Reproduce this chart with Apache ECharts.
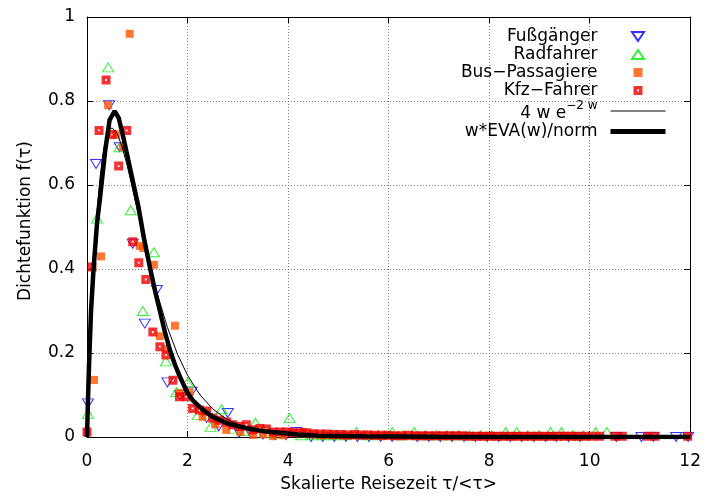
<!DOCTYPE html>
<html>
<head>
<meta charset="utf-8">
<script src="https://cdn.jsdelivr.net/npm/echarts@6/dist/echarts.min.js"></script>
<style>
html,body{margin:0;padding:0;background:#fff;}
#main{width:704px;height:500px;}
</style>
</head>
<body>
<div id="main"></div>
<script>
// Achsen
var xTicks = [0, 2, 4, 6, 8, 10, 12];
var yTicks = [0, 0.2, 0.4, 0.6, 0.8, 1];

var fussgaenger = [
  [0.02,0.08],[0.18,0.65],[0.44,0.79],[0.65,0.69],[0.91,0.46],[1.15,0.27],[1.39,0.35],
  [1.6,0.13],[1.85,0.1],[2.08,0.108],[2.38,0.045],[2.62,0.025],[2.8,0.057],[3.03,0.01],
  [3.26,0.008],[3.5,0.006],[3.73,0.005],[3.96,0.004],[4.17,0.012],
  [4.46,0],[4.69,0],[4.92,0],[5.15,0],[5.38,0],[5.61,0],[5.84,0],[6.07,0],[6.57,0],
  [6.8,0],[7.03,0],[7.26,0],[7.5,0],[7.73,0],[7.96,0],[8.19,0],[8.42,0],[8.65,0],
  [8.89,0],[9.12,0],[9.34,0],[9.58,0],[9.81,0],[10.53,0],[11.03,0],[11.27,0],
  [11.72,0],[11.96,0]
];
var radfahrer = [
  [0.02,0.055],[0.2,0.52],[0.42,0.88],[0.65,0.69],[0.87,0.54],[1.11,0.3],[1.33,0.44],
  [1.57,0.18],[1.78,0.107],[2.0,0.13],[2.2,0.052],[2.46,0.024],[2.68,0.066],[2.9,0.02],
  [3.13,0.015],[3.35,0.034],[3.57,0.01],[3.8,0.008],[4.03,0.045],
  [4.26,0.004],[4.48,0.004],[4.7,0.004],[4.92,0.004],[5.14,0.004],[5.36,0.012],
  [5.58,0.004],[5.8,0.004],[6.07,0.012],[6.29,0.004],[6.51,0.012],[6.73,0.004],
  [6.95,0.004],[7.17,0.004],[7.39,0.004],[7.61,0.004],[7.83,0.004],[8.05,0.004],
  [8.33,0.012],[8.55,0.012],[8.77,0.004],[8.99,0.004],[9.22,0.012],[9.44,0.012],
  [9.66,0.004],[9.88,0.004],[10.12,0.012],[10.34,0.012]
];
var busPassagiere = [
  [0.14,0.136],[0.28,0.43],[0.42,0.79],[0.58,0.72],[0.71,0.69],[0.85,0.96],[1.05,0.455],
  [1.12,0.45],[1.33,0.41],[1.45,0.24],[1.59,0.21],[1.75,0.265],[1.85,0.105],[2.04,0.107],
  [2.3,0.048],[2.55,0.03],[2.77,0.017],[3.05,0.012],[3.3,0.005],[3.5,0.006],[3.7,0.002],
  [3.9,0.004],[4.1,0.01],[4.3,0.012],[4.5,0.006],[4.7,0.004],[4.9,0.004],[5.1,0.003],
  [5.3,0.003],[5.5,0.003],[5.7,0.003],[5.9,0.002],[6.1,0.002],[6.3,0.002],[6.5,0.002],
  [6.7,0.002],[6.9,0.002],[7.1,0.002],[7.3,0.002],[7.5,0.002],[7.7,0.002],[7.9,0.002],
  [8.1,0.002],[8.3,0.002],[8.5,0.002],[8.7,0.002],[8.9,0.002],[9.1,0.002],[9.3,0.002],
  [9.5,0.002],[9.7,0.002]
];
var kfzFahrer = [
  [0.0,0.012],[0.1,0.405],[0.24,0.73],[0.38,0.85],[0.5,0.72],[0.63,0.645],[0.79,0.73],
  [0.91,0.465],[1.03,0.415],[1.17,0.375],[1.31,0.25],[1.45,0.215],[1.57,0.195],[1.71,0.135],
  [1.84,0.096],[1.98,0.096],[2.1,0.068],[2.24,0.064],[2.38,0.062],[2.5,0.045],[2.64,0.04],
  [2.78,0.036],[2.9,0.029],[3.04,0.025],[3.17,0.029],[3.3,0.017],[3.44,0.02],[3.57,0.019],
  [3.7,0.012],[3.84,0.012],[3.97,0.012],[4.1,0.01],[4.24,0.01],[4.37,0.01],[4.51,0.008],
  [4.64,0.007],[4.78,0.007],[4.91,0.006],[5.05,0.006],[5.18,0.005],[5.32,0.006],[5.45,0.005],
  [5.59,0.005],[5.72,0.004],[5.86,0.004],[5.99,0.004],[6.13,0.003],[6.26,0.003],[6.4,0.004],
  [6.53,0.003],[6.67,0.003],[6.8,0.003],[6.94,0.003],[7.07,0.003],[7.21,0.003],[7.34,0.003],
  [7.48,0.003],[7.61,0.002],[7.75,0.002],[7.88,0.002],[8.02,0.002],[8.15,0.002],[8.29,0.002],
  [8.42,0.002],[8.56,0.002],[8.69,0.002],[8.83,0.002],[8.96,0.002],[9.1,0.002],[9.23,0.002],
  [9.37,0.002],[9.5,0.002],[9.64,0.002],[9.77,0.002],[9.91,0.002],[10.05,0.002],[10.2,0.002],
  [10.5,0.002],[10.65,0.002],[11.15,0.002],[11.3,0.002],[11.95,0.002]
];

// Kurven
var expKurve = [
  [0,0],[0.05,0.181],[0.1,0.327],[0.15,0.444],[0.2,0.536],[0.25,0.607],[0.3,0.659],
  [0.35,0.695],[0.4,0.719],[0.45,0.732],[0.5,0.736],[0.6,0.723],[0.7,0.69],[0.8,0.646],
  [0.9,0.595],[1.0,0.541],[1.2,0.435],[1.4,0.34],[1.6,0.261],[1.8,0.197],[2.0,0.147],
  [2.25,0.1],[2.5,0.067],[2.75,0.045],[3,0.03],[3.5,0.0128],[4,0.0054],[5,0.0009],
  [6,0.00015],[8,0],[12,0]
];
var evaKurve = [
  [0,0],[0.02,0.09],[0.04,0.17],[0.08,0.3],[0.13,0.4],[0.2,0.51],[0.26,0.57],[0.36,0.68],
  [0.45,0.755],[0.55,0.776],[0.63,0.76],[0.72,0.715],[0.82,0.66],[0.91,0.61],[1.02,0.55],
  [1.13,0.475],[1.25,0.405],[1.35,0.35],[1.45,0.3],[1.55,0.25],[1.65,0.207],[1.75,0.172],
  [1.85,0.143],[2.0,0.105],[2.1,0.088],[2.3,0.065],[2.5,0.048],[2.8,0.032],[3.17,0.021],
  [3.5,0.014],[3.83,0.01],[4.2,0.006],[4.6,0.003],[5.5,0.0015],[7,0.0005],[9,0.0002],[12,0]
];

var FONT = 'DejaVu Sans';
var FS = 17;
var myChart = echarts.init(document.getElementById('main'));

var achse = function(pos, labels){
  return {
    type: 'value',
    position: pos,
    axisLine: {show: true, onZero: false, lineStyle: {color: '#000', width: 1}},
    axisTick: {show: true, inside: true, length: 6, lineStyle: {color: '#000'}},
    axisLabel: {show: labels, color: '#000', fontFamily: FONT, fontSize: FS},
    splitLine: {show: false}
  };
};

var xUnten = achse('bottom', true);
xUnten.min = xTicks[0]; xUnten.max = xTicks[xTicks.length-1]; xUnten.interval = xTicks[1]-xTicks[0];
xUnten.axisLabel.margin = 16;
xUnten.name = 'Skalierte Reisezeit τ/<τ>';
xUnten.nameLocation = 'middle';
xUnten.nameGap = 39;
xUnten.nameTextStyle = {color: '#000', fontFamily: FONT, fontSize: FS};
xUnten.splitLine = {show: true, showMinLine: false, showMaxLine: false,
  lineStyle: {color: '#808080', type: [1, 2], width: 1}};

var xOben = achse('top', false);
xOben.min = xUnten.min; xOben.max = xUnten.max; xOben.interval = xUnten.interval;

var yLinks = achse('left', true);
yLinks.min = yTicks[0]; yLinks.max = yTicks[yTicks.length-1]; yLinks.interval = yTicks[1]-yTicks[0];
yLinks.axisLabel.margin = 12;
yLinks.name = 'Dichtefunktion f(τ)';
yLinks.nameLocation = 'middle';
yLinks.nameGap = 53;
yLinks.nameTextStyle = {color: '#000', fontFamily: FONT, fontSize: FS, padding: [0, 0, 0, 12]};
yLinks.splitLine = {show: true, showMinLine: false, showMaxLine: false,
  lineStyle: {color: '#808080', type: [1, 2], width: 1}};

var yRechts = achse('right', false);
yRechts.min = yLinks.min; yRechts.max = yLinks.max; yRechts.interval = yLinks.interval;

// Symbole
var dreieckUnten = 'path://M0,0L12,0L6,9Z';
var dreieckOben = 'path://M6,0L12,9L0,9Z';
var quadrat = 'path://M0,0L8,0L8,8L0,8Z';
var kfzSymbol = 'path://M0,0L10,0L10,10L0,10Z M4,4L4,6L6,6L6,4Z';
var keinPunkt = {color: 'rgba(0,0,0,0)', borderWidth: 0, opacity: 0};

var option = {
  animation: false,
  backgroundColor: '#fff',
  grid: {left: 87, right: 12, top: 17, bottom: 63},
  xAxis: [xUnten, xOben],
  yAxis: [yLinks, yRechts],
  legend: {
    orient: 'vertical',
    align: 'right',
    right: 31,
    top: 23,
    itemWidth: 55,
    itemHeight: 9,
    itemGap: 1,
    symbolRotate: 0,
    textStyle: {color: '#000', fontFamily: FONT, fontSize: FS, padding: [0, 8, 0, 0],
      rich: {
        b: {fontFamily: FONT, fontSize: FS, color: '#000', lineHeight: 22, verticalAlign: 'bottom'},
        s: {fontFamily: FONT, fontSize: 12, color: '#000', lineHeight: 12, verticalAlign: 'top'}
      }},
    formatter: function(name){
      if (name === '4 w e-2 w') return '{b|4 w e}{s|−2 w}';
      return name;
    },
    data: [
      {name: 'Fußgänger', icon: dreieckUnten},
      {name: 'Radfahrer', icon: dreieckOben},
      {name: 'Bus−Passagiere', icon: quadrat},
      {name: 'Kfz−Fahrer', icon: kfzSymbol},
      {name: '4 w e-2 w', itemStyle: keinPunkt, lineStyle: {width: 1}},
      {name: 'w*EVA(w)/norm', itemStyle: keinPunkt, lineStyle: {width: 5}}
    ]
  },
  series: [
    {name: 'Fußgänger', type: 'scatter', data: fussgaenger, clip: false,
     symbol: dreieckUnten, symbolSize: [11, 9],
     itemStyle: {color: 'rgba(0,0,0,0)', borderColor: '#0000ff', borderWidth: 1}},
    {name: 'Radfahrer', type: 'scatter', data: radfahrer, clip: false,
     symbol: dreieckOben, symbolSize: [11, 9],
     itemStyle: {color: 'rgba(0,0,0,0)', borderColor: '#00ee00', borderWidth: 1}},
    {name: 'Bus−Passagiere', type: 'scatter', data: busPassagiere, clip: false,
     symbol: quadrat, symbolSize: 8, itemStyle: {color: '#ff5500'}},
    {name: 'Kfz−Fahrer', type: 'scatter', data: kfzFahrer, clip: false,
     symbol: kfzSymbol, symbolSize: 9, itemStyle: {color: '#f00000'}},
    {name: '4 w e-2 w', type: 'line', data: expKurve, symbol: 'none', smooth: false,
     lineStyle: {color: '#000', width: 1}, itemStyle: {color: '#000'}},
    {name: 'w*EVA(w)/norm', type: 'line', data: evaKurve, symbol: 'none', smooth: false,
     lineStyle: {color: '#000', width: 4.5}, itemStyle: {color: '#000'}}
  ]
};

myChart.setOption(option);
</script>
</body>
</html>
